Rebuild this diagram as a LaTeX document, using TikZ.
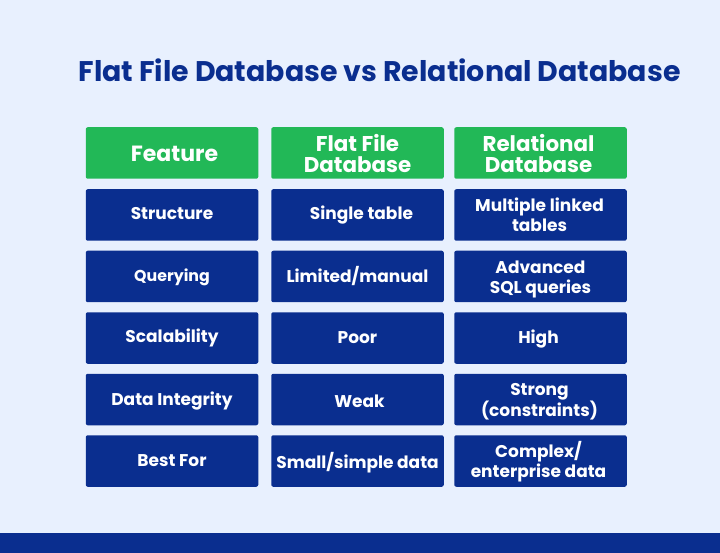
\documentclass[tikz,border=0pt]{standalone}
\usepackage{fontspec}
\setmainfont{Poppins}
\definecolor{bgc}{HTML}{E8F0FE}
\definecolor{navy}{HTML}{0A2E8F}
\definecolor{grn}{HTML}{22B857}
\tikzset{x=1pt,y=-1pt,
cell/.style={rounded corners=2pt,minimum width=172.5pt,minimum height=51.5pt,inner sep=0pt},
body/.style={cell,fill=navy},
head/.style={cell,fill=grn},
celltext/.style={text=white,align=center,inner sep=0pt,font=\bfseries\fontsize{17}{20}\selectfont},
headtext/.style={text=white,align=center,inner sep=0pt,font=\bfseries\fontsize{21.4}{21}\selectfont}}
% name, box style, text style, x, y, dx, dy, text
\newcommand{\tcell}[8]{\node[#2] (#1) at (#4,#5) {};
\node[#3] (#1t) at ([shift={(#6,#7)}]#1.center) {#8};}
\begin{document}
\begin{tikzpicture}
\useasboundingbox (0,0) rectangle (720,553);
\fill[bgc] (0,0) rectangle (720,553);
\fill[navy] (0,533) rectangle (720,553);
\node[anchor=center,text=navy,font=\bfseries\fontsize{28.4}{30}\selectfont] (title) at (379.5,70) {Flat File Database vs Relational Database};
\tcell{h1}{head}{headtext,font=\bfseries\fontsize{22}{23}\selectfont}{172}{153}{2.5}{0.5}{Feature}
\tcell{h2}{head}{headtext}{357.5}{153}{0}{1}{Flat File\\Database}
\tcell{h3}{head}{headtext}{540.5}{153}{-2}{1}{Relational\\Database}
\tcell{a1}{body}{celltext}{172}{215}{0}{-1}{Structure}
\tcell{a2}{body}{celltext}{357.5}{215}{4}{0}{Single table}
\tcell{a3}{body}{celltext}{540.5}{215}{-1}{0}{Multiple linked\\tables}
\tcell{b1}{body}{celltext,font=\bfseries\fontsize{15.8}{20}\selectfont}{172}{276.5}{0}{1}{Querying}
\tcell{b2}{body}{celltext}{357.5}{276.5}{0}{0}{Limited/manual}
\tcell{b3}{body}{celltext}{540.5}{276.5}{0}{3}{Advanced\\SQL queries}
\tcell{c1}{body}{celltext}{172}{338}{0}{0}{Scalability}
\tcell{c2}{body}{celltext}{357.5}{338}{0}{0}{Poor}
\tcell{c3}{body}{celltext}{540.5}{338}{-2}{1}{High}
\tcell{d1}{body}{celltext}{172}{399.5}{0}{2}{Data Integrity}
\tcell{d2}{body}{celltext}{357.5}{399.5}{2}{2}{Weak}
\tcell{d3}{body}{celltext}{540.5}{399.5}{-1}{2}{Strong\\(constraints)}
\tcell{e1}{body}{celltext}{172}{461}{0}{0}{Best For}
\tcell{e2}{body}{celltext}{357.5}{461}{0}{2}{Small/simple data}
\tcell{e3}{body}{celltext}{540.5}{461}{-2}{1}{Complex/\\enterprise data}
\end{tikzpicture}
\end{document}
